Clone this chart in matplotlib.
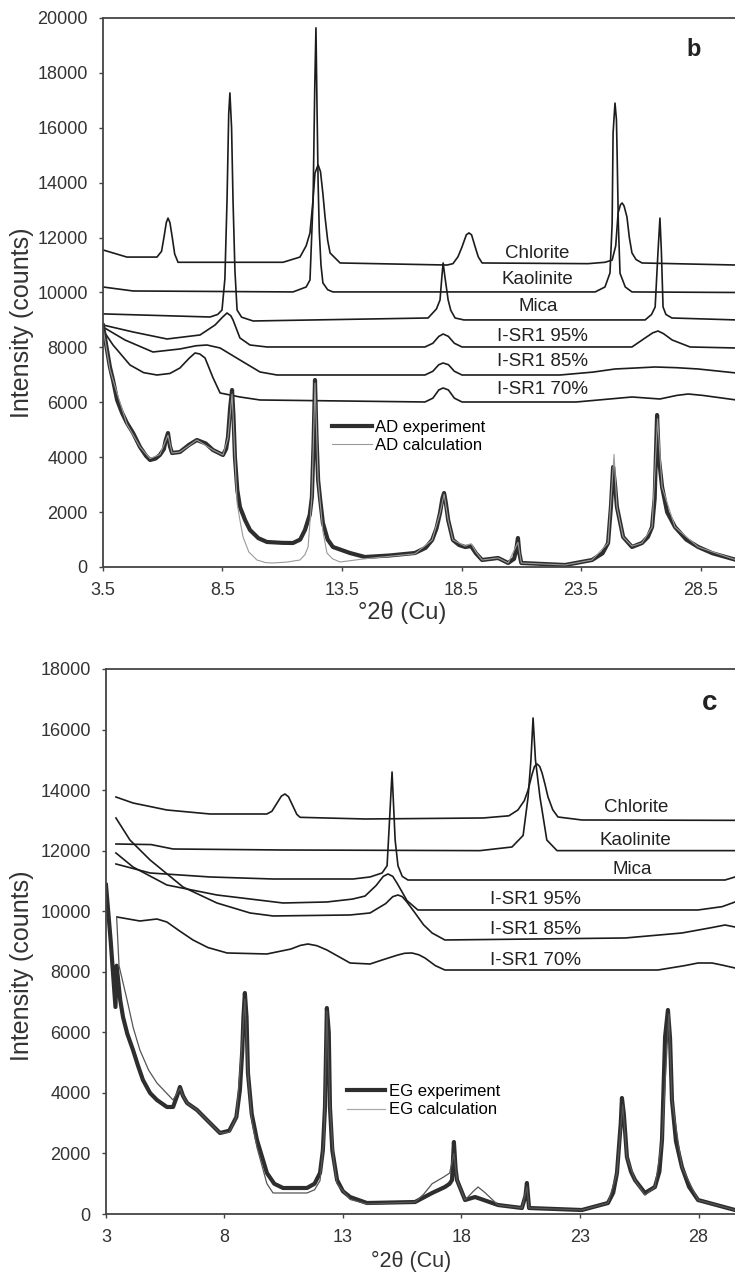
import matplotlib.pyplot as plt

plt.rcParams['font.family'] = ['Liberation Sans', 'DejaVu Sans']

# ---- panel b (air dried) ----
chl_b_x = [3.5, 4.5, 5.76, 5.95, 6.05, 6.15, 6.22, 6.3, 6.4, 6.5, 6.64, 11.03, 11.74, 12.0, 12.16, 12.28, 12.37,
           12.5, 12.6, 12.7, 12.79, 12.9, 13.0, 13.42, 17.9, 18.14, 18.35, 18.52, 18.7, 18.81, 18.92, 19.07, 19.2,
           19.36, 23.79, 24.5, 24.8, 24.95, 25.05, 25.15, 25.22, 25.3, 25.42, 25.52, 25.63, 25.8, 26.05, 30.0]
chl_b_y = [11550, 11290, 11290, 11500, 12000, 12550, 12710, 12550, 12000, 11400, 11100, 11100, 11290, 11700, 12170,
           13300, 14350, 14650, 14400, 13600, 12750, 11900, 11440, 11075, 11000, 11050, 11300, 11660, 12100, 12170,
           12100, 11660, 11300, 11075, 11050, 11100, 11180, 11700, 12900, 13200, 13260, 13150, 12750, 12000, 11440,
           11200, 11075, 11000]

kao_b_x = [3.5, 4.76, 11.45, 12.0, 12.16, 12.29, 12.36, 12.41, 12.45, 12.5, 12.55, 12.62, 12.7, 12.9, 13.12,
           24.09, 24.5, 24.71, 24.8, 24.84, 24.92, 24.98, 25.01, 25.06, 25.13, 25.35, 25.63, 30.0]
kao_b_y = [10200, 10055, 10020, 10200, 10455, 13370, 17500, 19640, 17000, 14000, 12200, 11000, 10350, 10100, 10020,
           10020, 10200, 10710, 12500, 15810, 16900, 16300, 15000, 12500, 10700, 10200, 10020, 10000]

mica_b_x = [3.5, 7.98, 8.3, 8.48, 8.6, 8.69, 8.76, 8.81, 8.88, 8.94, 9.02, 9.11, 9.3, 9.78, 17.1, 17.45, 17.6,
            17.68, 17.73, 17.8, 17.94, 18.05, 18.23, 18.6, 26.18, 26.45, 26.6, 26.72, 26.8, 26.86, 26.93, 27.05,
            27.3, 30.0]
mica_b_y = [9220, 9107, 9200, 9362, 10500, 13370, 16500, 17270, 16000, 13370, 10800, 9362, 9100, 8962, 9071, 9400,
            9727, 10600, 11075, 10600, 9727, 9350, 9071, 9000, 9000, 9200, 9472, 11500, 12710, 11500, 9472, 9200,
            9071, 9000]

i95_b_x = [3.5, 4.76, 6.18, 7.56, 8.19, 8.5, 8.69, 8.85, 8.94, 9.23, 9.65, 10.36, 16.97, 17.3, 17.55, 17.73,
           17.95, 18.2, 18.52, 25.63, 26.18, 26.5, 26.72, 26.95, 27.31, 28.06, 30.0]
i95_b_y = [8816, 8561, 8306, 8452, 8816, 9100, 9253, 9150, 9000, 8343, 8087, 8015, 8015, 8150, 8400, 8488, 8400,
           8150, 8015, 8015, 8343, 8530, 8597, 8500, 8270, 8015, 7978]

i85_b_x = [3.5, 4.42, 5.59, 6.72, 7.4, 7.85, 8.4, 9.23, 10.07, 10.78, 16.97, 17.3, 17.55, 17.73, 17.95, 18.2,
           18.52, 22.62, 24.0, 24.92, 25.8, 26.6, 27.5, 28.4, 30.0]
i85_b_y = [8743, 8270, 7832, 7942, 8060, 8087, 7978, 7541, 7104, 6994, 6994, 7130, 7370, 7431, 7370, 7130,
           6994, 6994, 7100, 7213, 7250, 7286, 7260, 7213, 7067]

i70_b_x = [3.5, 3.92, 4.63, 5.2, 5.76, 6.3, 6.72, 7.1, 7.35, 7.55, 7.77, 8.1, 8.4, 9.23, 10.07, 16.97, 17.3,
           17.55, 17.73, 17.95, 18.2, 18.52, 23.3, 25.63, 26.8, 27.5, 27.98, 28.6, 30.0]
i70_b_y = [8634, 8087, 7359, 7080, 6994, 7050, 7250, 7600, 7796, 7760, 7614, 6900, 6339, 6193, 6084, 6011, 6150,
           6450, 6521, 6450, 6150, 6011, 6011, 6193, 6120, 6250, 6302, 6250, 6084]

ad_exp_x = [3.5, 3.65, 3.79, 3.92, 4.09, 4.3, 4.5, 4.76, 5.05, 5.3, 5.47, 5.7, 5.88, 6.05, 6.12, 6.22, 6.3,
            6.39, 6.72, 7.1, 7.43, 7.8, 8.1, 8.52, 8.65, 8.73, 8.82, 8.9, 8.96, 9.02, 9.12, 9.23, 9.45, 9.65,
            10.0, 10.36, 11.0, 11.45, 11.75, 11.95, 12.15, 12.24, 12.31, 12.37, 12.43, 12.5, 12.58, 12.7, 12.9,
            13.12, 13.83, 14.46, 15.5, 16.55, 17.0, 17.27, 17.45, 17.6, 17.7, 17.77, 17.85, 17.94, 18.14, 18.4,
            18.65, 18.9, 19.1, 19.36, 20.03, 20.45, 20.7, 20.8, 20.86, 20.92, 21.0, 22.83, 23.96, 24.4, 24.63,
            24.75, 24.84, 24.92, 25.0, 25.26, 25.63, 26.05, 26.3, 26.47, 26.58, 26.68, 26.75, 26.89, 27.1, 27.43,
            27.9, 28.4, 29.0, 30.0]
ad_exp_y = [8800, 8000, 7286, 6812, 6084, 5610, 5250, 4881, 4371, 4050, 3898, 3950, 4080, 4300, 4600, 4881, 4400,
            4153, 4189, 4450, 4626, 4500, 4262, 4080, 4300, 4736, 5800, 6448, 5500, 4007, 2800, 2186, 1700, 1348,
            1050, 911, 880, 874, 1000, 1348, 1900, 2550, 4500, 6812, 4800, 3169, 2500, 1603, 1000,
            729, 510, 364, 420, 510, 700, 984, 1400, 1967, 2500, 2696, 2300, 1712, 984, 800,
            729, 760, 500, 255, 328, 146, 300, 700, 1056, 500, 146, 73, 255, 500, 874,
            2200, 3643, 3000, 2186, 1093, 729, 874, 1100, 1457, 2500, 5537, 4000, 2914, 2000, 1457,
            1000, 729, 500, 255]

ad_calc_x = [3.5, 3.79, 3.92, 4.5, 5.05, 5.47, 5.88, 6.22, 6.39, 6.72, 7.43, 8.1, 8.52, 8.73, 8.9, 9.02, 9.11,
             9.23, 9.36, 9.6, 9.94, 10.3, 10.61, 11.2, 11.74, 11.95, 12.08, 12.24, 12.37, 12.5, 12.7, 12.87, 13.1,
             13.42, 14.46, 16.55, 17.27, 17.6, 17.77, 17.94, 18.14, 18.65, 18.9, 19.1, 19.36, 20.03, 20.45, 20.86,
             21.0, 22.83, 23.96, 24.63, 24.88, 25.0, 25.26, 25.63, 26.05, 26.47, 26.7, 26.89, 27.43, 28.4, 30.0]
ad_calc_y = [8700, 7200, 6812, 5200, 4371, 3950, 4100, 4800, 4153, 4189, 4626, 4262, 4080, 4700, 6300, 4000, 2331,
             1700, 1093, 550, 255, 160, 146, 180, 255, 450, 729, 2550, 6700, 3169, 1300, 510, 300,
             182, 300, 480, 984, 1967, 2650, 1712, 984, 760, 850, 550, 255, 328, 146, 900,
             146, 73, 255, 874, 4100, 2186, 1093, 760, 874, 1457, 5400, 2914, 1457, 729, 255]

labels_b = ['Chlorite', 'Kaolinite', 'Mica', 'I-SR1 95%', 'I-SR1 85%', 'I-SR1 70%']
label_b_x = [21.66, 21.66, 21.7, 21.87, 21.87, 21.87]
label_b_y = [11403, 10455, 9472, 8379, 7468, 6448]

# ---- panel c (ethylene glycol) ----
chl_c_x = [3.42, 4.14, 5.57, 7.39, 9.79, 10.0, 10.2, 10.4, 10.55, 10.7, 10.9, 11.05, 11.19, 13.93, 18.91, 20.0,
           20.38, 20.65, 20.81, 20.97, 21.08, 21.19, 21.3, 21.4, 21.52, 21.65, 21.85, 22.07, 23.08, 29.54]
chl_c_y = [13771, 13573, 13342, 13210, 13210, 13300, 13550, 13800, 13870, 13780, 13450, 13200, 13100, 13045, 13078,
           13150, 13342, 13650, 14000, 14500, 14780, 14861, 14780, 14564, 14200, 13771, 13350, 13111, 13012, 13000]

kao_c_x = [3.42, 4.9, 5.83, 10.47, 18.78, 20.13, 20.6, 20.81, 20.93, 21.02, 21.12, 21.31, 21.6, 22.03, 29.54]
kao_c_y = [12219, 12200, 12054, 12021, 12000, 12120, 12500, 13771, 15000, 16380, 15000, 13771, 12351, 12000, 12000]

mica_c_x = [3.42, 4.86, 7.39, 10.05, 13.42, 14.14, 14.65, 14.86, 14.95, 15.07, 15.2, 15.32, 15.5, 15.74, 29.12, 29.54]
mica_c_y = [11559, 11262, 11130, 11063, 11063, 11130, 11262, 11500, 12800, 14597, 12351, 11500, 11150, 11030, 11030,
            11130]

i95_c_x = [3.42, 4.14, 5.57, 7.68, 10.47, 12.32, 13.4, 13.93, 14.4, 14.7, 14.9, 15.1, 15.3, 15.7, 16.16, 27.98,
           29.0, 29.54]
i95_c_y = [11922, 11460, 10865, 10535, 10271, 10304, 10400, 10500, 10850, 11150, 11229, 11150, 10900, 10350, 10040,
           10040, 10150, 10304]

i85_c_x = [3.42, 4.01, 4.86, 6.25, 7.68, 9.08, 10.05, 13.3, 14.14, 14.8, 15.1, 15.32, 15.5, 15.7, 16.04, 16.4,
           16.76, 17.3, 24.9, 27.3, 28.5, 29.12, 29.54]
i85_c_y = [13078, 12351, 11691, 10799, 10271, 9941, 9842, 9875, 9941, 10250, 10480, 10535, 10480, 10300, 9941, 9550,
           9280, 9049, 9115, 9280, 9450, 9544, 9478]

i70_c_x = [3.46, 4.43, 5.15, 5.57, 6.1, 6.67, 7.3, 8.11, 9.79, 10.8, 11.2, 11.52, 11.9, 12.32, 13.3, 14.14,
           14.65, 15.3, 15.6, 15.91, 16.2, 16.46, 16.9, 17.3, 26.29, 27.4, 27.98, 28.57, 29.0, 29.54]
i70_c_y = [9809, 9676, 9742, 9643, 9350, 9049, 8800, 8620, 8587, 8750, 8870, 8917, 8860, 8719, 8289, 8256,
           8388, 8550, 8610, 8620, 8560, 8454, 8200, 8058, 8058, 8200, 8289, 8289, 8220, 8124]

eg_exp_x = [3.0, 3.2, 3.4, 3.45, 3.6, 3.72, 3.9, 4.14, 4.35, 4.56, 4.86, 5.15, 5.57, 5.83, 6.0, 6.12, 6.25, 6.42,
            6.84, 7.26, 7.81, 8.2, 8.5, 8.65, 8.75, 8.8, 8.86, 8.93, 8.99, 9.15, 9.37, 9.79, 10.1, 10.47, 11.48,
            11.8, 12.03, 12.15, 12.24, 12.32, 12.4, 12.45, 12.55, 12.75, 13.0, 13.3, 14.01, 16.04, 16.76, 17.3,
            17.5, 17.6, 17.68, 17.75, 17.81, 18.15, 18.57, 18.8, 19.54, 20.55, 20.7, 20.76, 20.85, 23.08, 24.18,
            24.4, 24.56, 24.72, 24.77, 24.85, 24.98, 25.15, 25.32, 25.74, 26.16, 26.35, 26.46, 26.59, 26.71, 26.8,
            26.88, 27.05, 27.3, 27.6, 27.98, 29.54]
eg_exp_y = [10865, 9000, 6836, 8200, 7067, 6500, 5950, 5416, 4900, 4425, 3996, 3765, 3534, 3534, 3900, 4194, 3900,
            3666, 3435, 3104, 2675, 2750, 3200, 4095, 5400, 6500, 7298, 6500, 4657, 3300, 2444, 1354, 1000, 859,
            859, 1000, 1354, 2100, 3534, 6803, 6000, 3534, 2100, 1123, 750, 561, 363, 396, 694, 892,
            1000, 1123, 2378, 1500, 1123, 462, 561, 500, 297, 198, 600, 1024, 198, 132, 363,
            700, 1354, 3000, 3831, 3300, 1882, 1400, 1123, 694, 892, 1400, 2444, 5846, 6737, 5800,
            3765, 2400, 1552, 900, 462, 132]

eg_calc_x = [3.45, 3.55, 3.89, 4.15, 4.43, 4.8, 5.15, 5.83, 6.12, 6.25, 6.42, 6.84, 7.26, 7.81, 8.2, 8.5, 8.7,
             8.86, 8.99, 9.15, 9.37, 9.79, 10.05, 11.48, 11.8, 12.03, 12.2, 12.32, 12.45, 12.6, 12.75, 13.3, 14.01,
             16.04, 16.4, 16.76, 17.2, 17.5, 17.68, 17.81, 18.15, 18.5, 18.7, 19.0, 19.54, 20.55, 20.76, 20.85,
             23.08, 24.18, 24.56, 24.8, 24.98, 25.32, 25.74, 26.16, 26.46, 26.75, 26.88, 27.3, 27.98, 29.54]
eg_calc_y = [9800, 8200, 7067, 6150, 5416, 4750, 4326, 3765, 4150, 3900, 3666, 3435, 3104, 2675, 2700, 3200, 5200,
             7100, 4657, 3100, 2200, 1000, 694, 694, 800, 1100, 2500, 6700, 3534, 1800, 1000, 480, 330,
             396, 650, 1000, 1200, 1350, 2000, 1123, 462, 750, 892, 700, 297, 198, 900, 198,
             132, 363, 1354, 3600, 1882, 1123, 620, 892, 2444, 6600, 3765, 1552, 462, 132]

labels_c = ['Chlorite', 'Kaolinite', 'Mica', 'I-SR1 95%', 'I-SR1 85%', 'I-SR1 70%']
label_c_x = [25.36, 25.32, 25.2, 21.14, 21.14, 21.14]
label_c_y = [13408, 12351, 11361, 10370, 9379, 8388]

ref_col = '#1c1c1c'
exp_col = '#2e2e2e'
axis_col = '#444444'

fig = plt.figure(figsize=(7.35, 12.75), dpi=100)
ax1 = fig.add_axes([0.1401, 0.5553, 0.8599, 0.4306])
ax2 = fig.add_axes([0.1442, 0.04784, 0.8558, 0.4275])

# panel b
for xs, ys in [(chl_b_x, chl_b_y), (kao_b_x, kao_b_y), (mica_b_x, mica_b_y),
               (i95_b_x, i95_b_y), (i85_b_x, i85_b_y), (i70_b_x, i70_b_y)]:
    ax1.plot(xs, ys, color=ref_col, lw=1.2)
ax1.plot(ad_exp_x, ad_exp_y, color=exp_col, lw=3.0, label='AD experiment')
ax1.plot(ad_calc_x, ad_calc_y, color='#9a9a9a', lw=0.8, label='AD calculation')
for t, x, y in zip(labels_b, label_b_x, label_b_y):
    ax1.text(x, y, t, ha='center', va='center', fontsize=13.5, color='#222222')
ax1.text(28.19, 18834, 'b', ha='center', va='center', fontsize=17, fontweight='bold', color='#222222')
ax1.set_xlim(3.5, 29.94)
ax1.set_ylim(0, 20000)
ax1.set_xticks([3.5, 8.5, 13.5, 18.5, 23.5, 28.5])
ax1.set_xticklabels(['3.5', '8.5', '13.5', '18.5', '23.5', '28.5'])
ax1.set_yticks(range(0, 20001, 2000))
leg = ax1.legend(loc='upper left', bbox_to_anchor=(0.362, 0.268), frameon=False, fontsize=12,
                 handlelength=2.4, handletextpad=0.2, labelspacing=0.2, borderpad=0, borderaxespad=0)

# panel c
for xs, ys in [(chl_c_x, chl_c_y), (kao_c_x, kao_c_y), (mica_c_x, mica_c_y),
               (i95_c_x, i95_c_y), (i85_c_x, i85_c_y), (i70_c_x, i70_c_y)]:
    ax2.plot(xs, ys, color=ref_col, lw=1.2)
ax2.plot(eg_exp_x, eg_exp_y, color=exp_col, lw=3.0, label='EG experiment')
ax2.plot(eg_calc_x, eg_calc_y, color='#555555', lw=0.9, label='EG calculation')
for t, x, y in zip(labels_c, label_c_x, label_c_y):
    ax2.text(x, y, t, ha='center', va='center', fontsize=13.5, color='#222222')
ax2.text(28.49, 16876, 'c', ha='center', va='center', fontsize=20, fontweight='bold', color='#222222')
ax2.set_xlim(3, 29.54)
ax2.set_ylim(0, 18000)
ax2.set_xticks([3, 8, 13, 18, 23, 28])
ax2.set_yticks(range(0, 18001, 2000))
leg2 = ax2.legend(loc='upper left', bbox_to_anchor=(0.383, 0.2385), frameon=False, fontsize=12,
                  handlelength=2.3, handletextpad=0.2, labelspacing=0.2, borderpad=0, borderaxespad=0)
leg2.get_lines()[1].set_color('#aaaaaa')

for ax in [ax1, ax2]:
    ax.spines['right'].set_visible(False)
    for s in ['top', 'left', 'bottom']:
        ax.spines[s].set_color(axis_col)
        ax.spines[s].set_linewidth(1.3)
    ax.tick_params(direction='out', length=3, width=1, pad=8, labelsize=13, colors=axis_col, labelcolor='#333333')

fig.text(0.030, 0.7467, 'Intensity (counts)', rotation=90, ha='center', va='center', fontsize=18, color='#333333')
fig.text(0.030, 0.2424, 'Intensity (counts)', rotation=90, ha='center', va='center', fontsize=18, color='#333333')
fig.text(402 / 735, 1 - 612 / 1275, '°2θ (Cu)', ha='center', va='center', fontsize=17, color='#333333')
fig.text(411 / 735, 1 - 1261 / 1275, '°2θ (Cu)', ha='center', va='center', fontsize=15.5, color='#333333')

fig.savefig('out.png', dpi=100)
